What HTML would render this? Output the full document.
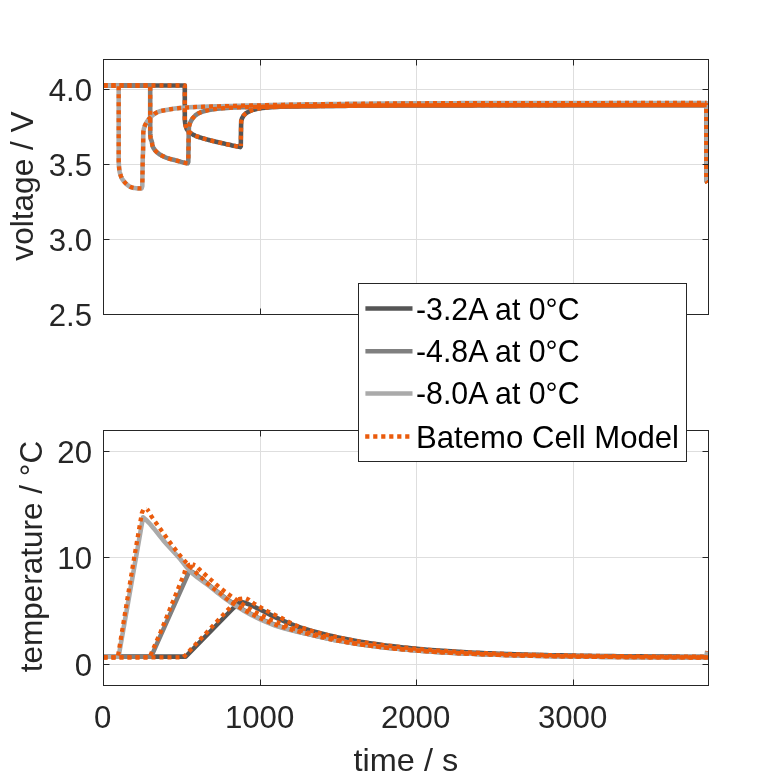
<!DOCTYPE html>
<html lang="en">
<head>
<meta charset="utf-8">
<title>Batemo Cell Model - voltage and temperature</title>
<style>
html,body{margin:0;padding:0;background:#ffffff;}
body{width:781px;height:781px;overflow:hidden;}
svg{display:block;}
</style>
</head>
<body>
<svg width="781" height="781" viewBox="0 0 781 781">
<defs>
<clipPath id="c1"><rect x="103.5" y="59.5" width="605.0" height="255.0"/></clipPath>
<clipPath id="c2"><rect x="103.5" y="430.5" width="605.0" height="255.0"/></clipPath>
</defs>
<rect width="781" height="781" fill="#ffffff"/>
<path d="M260.5 59.5 V314.5 M416.5 59.5 V314.5 M573.5 59.5 V314.5 M103.5 89.5 H708.5 M103.5 164.5 H708.5 M103.5 239.5 H708.5" stroke="#dedede" stroke-width="1" fill="none"/>
<g clip-path="url(#c1)" fill="none" stroke-linejoin="round" stroke-width="4.3">
<path d="M103.50 85.50 L184.80 85.50 L184.80 118.00 L184.80 118.00 L184.84 119.42 L184.93 120.82 L185.07 122.21 L185.25 123.59 L185.46 124.97 L185.81 126.38 L186.26 127.75 L186.79 128.99 L187.46 130.09 L188.35 131.15 L189.42 132.15 L190.59 133.07 L191.80 133.89 L192.99 134.60 L194.18 135.21 L195.42 135.77 L196.70 136.30 L198.02 136.78 L199.37 137.24 L200.73 137.66 L202.11 138.08 L203.48 138.47 L204.85 138.87 L206.19 139.26 L207.54 139.64 L208.88 140.01 L210.24 140.36 L211.59 140.70 L212.96 141.04 L214.32 141.36 L215.68 141.68 L217.05 142.00 L218.42 142.31 L219.78 142.63 L221.15 142.94 L222.51 143.26 L223.87 143.57 L225.24 143.88 L226.61 144.18 L227.97 144.49 L229.34 144.79 L230.71 145.08 L232.08 145.38 L233.45 145.67 L234.82 145.96 L236.19 146.25 L237.56 146.54 L238.93 146.82 L240.30 147.10 L240.80 146.00 L241.00 130.00 L241.20 121.00 L241.20 121.00 L242.16 118.03 L243.59 115.55 L245.63 113.54 L248.23 111.90 L250.89 110.64 L253.71 109.65 L256.58 108.93 L259.49 108.36 L262.43 107.95 L265.37 107.65 L268.32 107.40 L271.28 107.19 L274.24 107.03 L277.20 106.91 L280.15 106.80 L283.11 106.69 L286.07 106.60 L289.04 106.52 L292.00 106.45 L294.96 106.39 L297.92 106.33 L300.88 106.29 L303.84 106.24 L306.80 106.20 L309.76 106.16 L312.72 106.13 L315.69 106.09 L318.65 106.06 L321.61 106.03 L324.57 106.00 L327.53 105.98 L330.49 105.95 L333.45 105.93 L336.42 105.90 L339.38 105.88 L342.34 105.86 L345.30 105.83 L348.26 105.81 L351.22 105.79 L354.19 105.77 L357.15 105.75 L360.11 105.73 L363.07 105.70 L366.03 105.68 L368.99 105.66 L371.95 105.64 L374.91 105.62 L377.88 105.60 L380.84 105.58 L383.80 105.56 L386.76 105.54 L389.72 105.53 L392.68 105.51 L395.65 105.49 L398.61 105.48 L401.57 105.46 L404.53 105.45 L407.49 105.44 L410.45 105.43 L413.41 105.42 L416.38 105.41 L419.34 105.40 L422.30 105.40 L425.26 105.39 L428.22 105.38 L431.18 105.38 L434.14 105.37 L437.11 105.37 L440.07 105.37 L443.03 105.36 L445.99 105.36 L448.95 105.35 L451.91 105.35 L454.87 105.35 L457.84 105.34 L460.80 105.34 L463.76 105.34 L466.72 105.33 L469.68 105.33 L472.64 105.33 L475.60 105.32 L478.57 105.32 L481.53 105.32 L484.49 105.32 L487.45 105.31 L490.41 105.31 L493.37 105.31 L496.34 105.30 L499.30 105.30 L502.26 105.30 L505.22 105.29 L508.18 105.29 L511.14 105.29 L514.10 105.28 L517.07 105.28 L520.03 105.28 L522.99 105.27 L525.95 105.27 L528.91 105.27 L531.87 105.27 L534.83 105.26 L537.80 105.26 L540.76 105.26 L543.72 105.25 L546.68 105.25 L549.64 105.25 L552.60 105.24 L555.56 105.24 L558.53 105.24 L561.49 105.23 L564.45 105.23 L567.41 105.23 L570.37 105.22 L573.33 105.22 L576.29 105.22 L579.26 105.22 L582.22 105.21 L585.18 105.21 L588.14 105.21 L591.10 105.20 L594.06 105.20 L597.03 105.20 L599.99 105.19 L602.95 105.19 L605.91 105.19 L608.87 105.19 L611.83 105.18 L614.79 105.18 L617.76 105.18 L620.72 105.17 L623.68 105.17 L626.64 105.17 L629.60 105.17 L632.56 105.16 L635.52 105.16 L638.49 105.16 L641.45 105.15 L644.41 105.15 L647.37 105.15 L650.33 105.15 L653.29 105.14 L656.25 105.14 L659.22 105.14 L662.18 105.14 L665.14 105.13 L668.10 105.13 L671.06 105.13 L674.02 105.13 L676.99 105.12 L679.95 105.12 L682.91 105.12 L685.87 105.12 L688.83 105.11 L691.79 105.11 L694.75 105.11 L697.72 105.11 L700.68 105.10 L703.64 105.10 L706.60 105.10 L706.60 181.00 L707.60 182.50" stroke="#555555" stroke-width="4.6"/>
<path d="M103.50 85.50 L150.20 85.50 L150.20 132.00 L150.20 132.00 L150.22 133.14 L150.27 134.27 L150.35 135.39 L150.46 136.50 L150.59 137.59 L150.75 138.67 L151.09 139.73 L151.53 140.78 L151.86 141.84 L152.06 142.96 L152.22 144.09 L152.41 145.19 L152.67 146.22 L153.07 147.23 L153.61 148.23 L154.25 149.20 L154.96 150.13 L155.72 151.01 L156.49 151.81 L157.26 152.53 L158.09 153.21 L158.97 153.87 L159.91 154.50 L160.89 155.09 L161.89 155.66 L162.92 156.19 L163.96 156.68 L164.99 157.14 L166.02 157.57 L167.04 157.95 L168.08 158.31 L169.14 158.65 L170.22 158.96 L171.30 159.26 L172.39 159.54 L173.48 159.82 L174.57 160.10 L175.66 160.38 L176.75 160.66 L177.83 160.95 L178.91 161.25 L179.98 161.55 L181.06 161.85 L182.14 162.14 L183.23 162.42 L184.31 162.68 L185.40 162.92 L186.50 163.13 L187.60 163.30 L188.30 162.00 L188.60 140.00 L188.90 127.00 L188.90 127.00 L189.79 123.69 L191.11 120.71 L192.87 118.00 L195.26 115.50 L197.90 113.63 L200.83 112.28 L204.05 111.19 L207.31 110.36 L210.54 109.74 L213.81 109.23 L217.11 108.80 L220.40 108.45 L223.69 108.14 L226.99 107.88 L230.29 107.69 L233.60 107.54 L236.90 107.41 L240.21 107.30 L243.51 107.19 L246.82 107.10 L250.13 107.02 L253.44 106.94 L256.74 106.87 L260.05 106.80 L263.36 106.73 L266.67 106.67 L269.97 106.62 L273.28 106.56 L276.59 106.51 L279.90 106.46 L283.20 106.41 L286.51 106.37 L289.82 106.33 L293.13 106.28 L296.43 106.24 L299.74 106.20 L303.05 106.16 L306.36 106.12 L309.66 106.09 L312.97 106.05 L316.28 106.01 L319.59 105.98 L322.89 105.94 L326.20 105.91 L329.51 105.88 L332.82 105.84 L336.13 105.81 L339.43 105.78 L342.74 105.76 L346.05 105.73 L349.36 105.70 L352.66 105.68 L355.97 105.66 L359.28 105.63 L362.59 105.61 L365.89 105.58 L369.20 105.56 L372.51 105.54 L375.82 105.51 L379.13 105.49 L382.43 105.47 L385.74 105.45 L389.05 105.43 L392.36 105.41 L395.66 105.39 L398.97 105.38 L402.28 105.36 L405.59 105.35 L408.90 105.33 L412.20 105.32 L415.51 105.31 L418.82 105.30 L422.13 105.30 L425.43 105.29 L428.74 105.28 L432.05 105.28 L435.36 105.27 L438.67 105.27 L441.97 105.26 L445.28 105.26 L448.59 105.25 L451.90 105.25 L455.21 105.25 L458.51 105.24 L461.82 105.24 L465.13 105.23 L468.44 105.23 L471.74 105.23 L475.05 105.23 L478.36 105.22 L481.67 105.22 L484.98 105.22 L488.28 105.21 L491.59 105.21 L494.90 105.21 L498.21 105.20 L501.51 105.20 L504.82 105.19 L508.13 105.19 L511.44 105.19 L514.75 105.18 L518.05 105.18 L521.36 105.18 L524.67 105.17 L527.98 105.17 L531.29 105.17 L534.59 105.16 L537.90 105.16 L541.21 105.15 L544.52 105.15 L547.82 105.15 L551.13 105.14 L554.44 105.14 L557.75 105.14 L561.06 105.13 L564.36 105.13 L567.67 105.13 L570.98 105.12 L574.29 105.12 L577.59 105.12 L580.90 105.11 L584.21 105.11 L587.52 105.11 L590.83 105.10 L594.13 105.10 L597.44 105.10 L600.75 105.09 L604.06 105.09 L607.37 105.09 L610.67 105.08 L613.98 105.08 L617.29 105.08 L620.60 105.07 L623.90 105.07 L627.21 105.07 L630.52 105.06 L633.83 105.06 L637.14 105.06 L640.44 105.06 L643.75 105.05 L647.06 105.05 L650.37 105.05 L653.67 105.04 L656.98 105.04 L660.29 105.04 L663.60 105.04 L666.91 105.03 L670.21 105.03 L673.52 105.03 L676.83 105.02 L680.14 105.02 L683.45 105.02 L686.75 105.02 L690.06 105.01 L693.37 105.01 L696.68 105.01 L699.98 105.01 L703.29 105.00 L706.60 105.00 L706.60 181.00 L707.60 182.50" stroke="#808080" stroke-width="4.6"/>
<path d="M103.50 85.50 L118.70 85.50 L118.70 160.00 L118.70 160.00 L118.71 161.09 L118.74 162.18 L118.78 163.27 L118.84 164.35 L118.92 165.43 L119.00 166.51 L119.09 167.58 L119.19 168.65 L119.30 169.72 L119.47 170.80 L119.68 171.88 L119.92 172.96 L120.20 174.02 L120.51 175.06 L120.85 176.06 L121.21 177.04 L121.67 178.00 L122.21 178.96 L122.82 179.90 L123.48 180.80 L124.18 181.66 L124.90 182.47 L125.62 183.22 L126.40 183.98 L127.23 184.73 L128.11 185.46 L129.02 186.11 L129.97 186.68 L130.93 187.11 L131.90 187.41 L132.92 187.66 L133.98 187.89 L135.06 188.09 L136.16 188.25 L137.26 188.35 L138.35 188.40 L139.43 188.40 L140.51 188.40 L141.60 188.40 L142.30 186.00 L142.70 160.00 L143.10 150.00 L143.30 132.00 L143.30 132.00 L143.97 128.42 L145.11 125.02 L146.85 121.81 L148.95 118.89 L151.49 116.27 L154.31 113.97 L157.44 112.10 L160.79 111.04 L164.36 110.29 L167.97 109.67 L171.54 109.09 L175.12 108.56 L178.72 108.13 L182.31 107.80 L185.92 107.52 L189.53 107.30 L193.14 107.12 L196.75 106.97 L200.37 106.84 L203.98 106.72 L207.60 106.61 L211.21 106.51 L214.83 106.41 L218.44 106.30 L222.06 106.20 L225.67 106.11 L229.29 106.02 L232.90 105.93 L236.52 105.84 L240.13 105.75 L243.75 105.67 L247.36 105.58 L250.98 105.50 L254.59 105.42 L258.21 105.34 L261.82 105.26 L265.44 105.18 L269.05 105.10 L272.67 105.02 L276.29 104.95 L279.90 104.87 L283.52 104.80 L287.13 104.72 L290.75 104.66 L294.36 104.59 L297.98 104.53 L301.59 104.48 L305.21 104.42 L308.83 104.37 L312.44 104.32 L316.06 104.28 L319.67 104.23 L323.29 104.19 L326.91 104.15 L330.52 104.11 L334.14 104.07 L337.75 104.03 L341.37 103.99 L344.99 103.95 L348.60 103.91 L352.22 103.88 L355.83 103.84 L359.45 103.80 L363.07 103.77 L366.68 103.73 L370.30 103.69 L373.91 103.65 L377.53 103.62 L381.15 103.58 L384.76 103.55 L388.38 103.51 L391.99 103.48 L395.61 103.45 L399.23 103.42 L402.84 103.40 L406.46 103.37 L410.07 103.35 L413.69 103.33 L417.31 103.31 L420.92 103.30 L424.54 103.28 L428.15 103.27 L431.77 103.26 L435.39 103.24 L439.00 103.23 L442.62 103.22 L446.24 103.21 L449.85 103.20 L453.47 103.19 L457.08 103.18 L460.70 103.17 L464.32 103.16 L467.93 103.15 L471.55 103.14 L475.16 103.14 L478.78 103.13 L482.40 103.12 L486.01 103.12 L489.63 103.11 L493.25 103.11 L496.86 103.10 L500.48 103.10 L504.09 103.10 L507.71 103.09 L511.33 103.09 L514.94 103.09 L518.56 103.08 L522.17 103.08 L525.79 103.08 L529.41 103.08 L533.02 103.07 L536.64 103.07 L540.26 103.07 L543.87 103.06 L547.49 103.06 L551.10 103.06 L554.72 103.06 L558.34 103.05 L561.95 103.05 L565.57 103.05 L569.19 103.05 L572.80 103.04 L576.42 103.04 L580.03 103.04 L583.65 103.04 L587.27 103.04 L590.88 103.03 L594.50 103.03 L598.11 103.03 L601.73 103.03 L605.35 103.03 L608.96 103.02 L612.58 103.02 L616.20 103.02 L619.81 103.02 L623.43 103.02 L627.04 103.02 L630.66 103.01 L634.28 103.01 L637.89 103.01 L641.51 103.01 L645.12 103.01 L648.74 103.01 L652.36 103.01 L655.97 103.01 L659.59 103.01 L663.21 103.00 L666.82 103.00 L670.44 103.00 L674.05 103.00 L677.67 103.00 L681.29 103.00 L684.90 103.00 L688.52 103.00 L692.14 103.00 L695.75 103.00 L699.37 103.00 L702.98 103.00 L706.60 103.00 L706.60 181.00 L707.60 182.50" stroke="#aaaaaa" stroke-width="4.6"/>
<path d="M103.50 85.50 L184.80 85.50 L184.80 118.00 L184.80 118.00 L184.84 119.42 L184.93 120.82 L185.07 122.21 L185.25 123.59 L185.46 124.97 L185.81 126.38 L186.26 127.75 L186.79 128.99 L187.46 130.09 L188.35 131.15 L189.42 132.15 L190.59 133.07 L191.80 133.89 L192.99 134.60 L194.18 135.21 L195.42 135.77 L196.70 136.30 L198.02 136.78 L199.37 137.24 L200.73 137.66 L202.11 138.08 L203.48 138.47 L204.85 138.87 L206.19 139.26 L207.54 139.64 L208.88 140.01 L210.24 140.36 L211.59 140.70 L212.96 141.04 L214.32 141.36 L215.68 141.68 L217.05 142.00 L218.42 142.31 L219.78 142.63 L221.15 142.94 L222.51 143.26 L223.87 143.57 L225.24 143.88 L226.61 144.18 L227.97 144.49 L229.34 144.79 L230.71 145.08 L232.08 145.38 L233.45 145.67 L234.82 145.96 L236.19 146.25 L237.56 146.54 L238.93 146.82 L240.30 147.10 L240.80 146.00" stroke="#ea5b0c" stroke-dasharray="4 4" stroke-dashoffset="0.00"/>
<path d="M240.80 146.00 L241.00 130.00 L241.20 121.00 L241.20 121.00 L242.16 118.03 L243.59 115.55 L245.63 113.54 L248.23 111.90 L250.89 110.64 L253.71 109.65 L256.58 108.93 L259.49 108.36 L262.43 107.95 L265.37 107.65 L268.32 107.40 L271.28 107.19 L274.24 107.03 L277.20 106.91 L280.15 106.80 L283.11 106.69 L286.07 106.60 L289.04 106.52 L292.00 106.45 L294.96 106.39 L297.92 106.33 L300.88 106.29 L303.84 106.24 L306.80 106.20 L309.76 106.16 L312.72 106.13 L315.69 106.09 L318.65 106.06 L321.61 106.03 L324.57 106.00 L327.53 105.98 L330.49 105.95 L333.45 105.93 L336.42 105.90 L339.38 105.88 L342.34 105.86 L345.30 105.83 L348.26 105.81 L351.22 105.79 L354.19 105.77 L357.15 105.75 L360.11 105.73 L363.07 105.70 L366.03 105.68 L368.99 105.66 L371.95 105.64 L374.91 105.62 L377.88 105.60 L380.84 105.58 L383.80 105.56 L386.76 105.54 L389.72 105.53 L392.68 105.51 L395.65 105.49 L398.61 105.48 L401.57 105.46 L404.53 105.45 L407.49 105.44 L410.45 105.43 L413.41 105.42 L416.38 105.41 L419.34 105.40 L422.30 105.40 L425.26 105.39 L428.22 105.38 L431.18 105.38 L434.14 105.37 L437.11 105.37 L440.07 105.37 L443.03 105.36 L445.99 105.36 L448.95 105.35 L451.91 105.35 L454.87 105.35 L457.84 105.34 L460.80 105.34 L463.76 105.34 L466.72 105.33 L469.68 105.33 L472.64 105.33 L475.60 105.32 L478.57 105.32 L481.53 105.32 L484.49 105.32 L487.45 105.31 L490.41 105.31 L493.37 105.31 L496.34 105.30 L499.30 105.30 L502.26 105.30 L505.22 105.29 L508.18 105.29 L511.14 105.29 L514.10 105.28 L517.07 105.28 L520.03 105.28 L522.99 105.27 L525.95 105.27 L528.91 105.27 L531.87 105.27 L534.83 105.26 L537.80 105.26 L540.76 105.26 L543.72 105.25 L546.68 105.25 L549.64 105.25 L552.60 105.24 L555.56 105.24 L558.53 105.24 L561.49 105.23 L564.45 105.23 L567.41 105.23 L570.37 105.22 L573.33 105.22 L576.29 105.22 L579.26 105.22 L582.22 105.21 L585.18 105.21 L588.14 105.21 L591.10 105.20 L594.06 105.20 L597.03 105.20 L599.99 105.19 L602.95 105.19 L605.91 105.19 L608.87 105.19 L611.83 105.18 L614.79 105.18 L617.76 105.18 L620.72 105.17 L623.68 105.17 L626.64 105.17 L629.60 105.17 L632.56 105.16 L635.52 105.16 L638.49 105.16 L641.45 105.15 L644.41 105.15 L647.37 105.15 L650.33 105.15 L653.29 105.14 L656.25 105.14 L659.22 105.14 L662.18 105.14 L665.14 105.13 L668.10 105.13 L671.06 105.13 L674.02 105.13 L676.99 105.12 L679.95 105.12 L682.91 105.12 L685.87 105.12 L688.83 105.11 L691.79 105.11 L694.75 105.11 L697.72 105.11 L700.68 105.10 L703.64 105.10 L706.60 105.10" stroke="#ea5b0c" stroke-dasharray="4 4" stroke-dashoffset="1.63"/>
<path d="M706.60 105.10 L706.60 181.00 L707.60 182.50" stroke="#ea5b0c" stroke-dasharray="4 4" stroke-dashoffset="4.10"/>
<path d="M103.50 85.50 L150.20 85.50 L150.20 132.00 L150.20 132.00 L150.22 133.14 L150.27 134.27 L150.35 135.39 L150.46 136.50 L150.59 137.59 L150.75 138.67 L151.09 139.73 L151.53 140.78 L151.86 141.84 L152.06 142.96 L152.22 144.09 L152.41 145.19 L152.67 146.22 L153.07 147.23 L153.61 148.23 L154.25 149.20 L154.96 150.13 L155.72 151.01 L156.49 151.81 L157.26 152.53 L158.09 153.21 L158.97 153.87 L159.91 154.50 L160.89 155.09 L161.89 155.66 L162.92 156.19 L163.96 156.68 L164.99 157.14 L166.02 157.57 L167.04 157.95 L168.08 158.31 L169.14 158.65 L170.22 158.96 L171.30 159.26 L172.39 159.54 L173.48 159.82 L174.57 160.10 L175.66 160.38 L176.75 160.66 L177.83 160.95 L178.91 161.25 L179.98 161.55 L181.06 161.85 L182.14 162.14 L183.23 162.42 L184.31 162.68 L185.40 162.92 L186.50 163.13 L187.60 163.30 L188.30 162.00" stroke="#ea5b0c" stroke-dasharray="4 4" stroke-dashoffset="0.00"/>
<path d="M188.30 162.00 L188.60 140.00 L188.90 127.00 L188.90 127.00 L189.79 123.69 L191.11 120.71 L192.87 118.00 L195.26 115.50 L197.90 113.63 L200.83 112.28 L204.05 111.19 L207.31 110.36 L210.54 109.74 L213.81 109.23 L217.11 108.80 L220.40 108.45 L223.69 108.14 L226.99 107.88 L230.29 107.69 L233.60 107.54 L236.90 107.41 L240.21 107.30 L243.51 107.19 L246.82 107.10 L250.13 107.02 L253.44 106.94 L256.74 106.87 L260.05 106.80 L263.36 106.73 L266.67 106.67 L269.97 106.62 L273.28 106.56 L276.59 106.51 L279.90 106.46 L283.20 106.41 L286.51 106.37 L289.82 106.33 L293.13 106.28 L296.43 106.24 L299.74 106.20 L303.05 106.16 L306.36 106.12 L309.66 106.09 L312.97 106.05 L316.28 106.01 L319.59 105.98 L322.89 105.94 L326.20 105.91 L329.51 105.88 L332.82 105.84 L336.13 105.81 L339.43 105.78 L342.74 105.76 L346.05 105.73 L349.36 105.70 L352.66 105.68 L355.97 105.66 L359.28 105.63 L362.59 105.61 L365.89 105.58 L369.20 105.56 L372.51 105.54 L375.82 105.51 L379.13 105.49 L382.43 105.47 L385.74 105.45 L389.05 105.43 L392.36 105.41 L395.66 105.39 L398.97 105.38 L402.28 105.36 L405.59 105.35 L408.90 105.33 L412.20 105.32 L415.51 105.31 L418.82 105.30 L422.13 105.30 L425.43 105.29 L428.74 105.28 L432.05 105.28 L435.36 105.27 L438.67 105.27 L441.97 105.26 L445.28 105.26 L448.59 105.25 L451.90 105.25 L455.21 105.25 L458.51 105.24 L461.82 105.24 L465.13 105.23 L468.44 105.23 L471.74 105.23 L475.05 105.23 L478.36 105.22 L481.67 105.22 L484.98 105.22 L488.28 105.21 L491.59 105.21 L494.90 105.21 L498.21 105.20 L501.51 105.20 L504.82 105.19 L508.13 105.19 L511.44 105.19 L514.75 105.18 L518.05 105.18 L521.36 105.18 L524.67 105.17 L527.98 105.17 L531.29 105.17 L534.59 105.16 L537.90 105.16 L541.21 105.15 L544.52 105.15 L547.82 105.15 L551.13 105.14 L554.44 105.14 L557.75 105.14 L561.06 105.13 L564.36 105.13 L567.67 105.13 L570.98 105.12 L574.29 105.12 L577.59 105.12 L580.90 105.11 L584.21 105.11 L587.52 105.11 L590.83 105.10 L594.13 105.10 L597.44 105.10 L600.75 105.09 L604.06 105.09 L607.37 105.09 L610.67 105.08 L613.98 105.08 L617.29 105.08 L620.60 105.07 L623.90 105.07 L627.21 105.07 L630.52 105.06 L633.83 105.06 L637.14 105.06 L640.44 105.06 L643.75 105.05 L647.06 105.05 L650.37 105.05 L653.67 105.04 L656.98 105.04 L660.29 105.04 L663.60 105.04 L666.91 105.03 L670.21 105.03 L673.52 105.03 L676.83 105.02 L680.14 105.02 L683.45 105.02 L686.75 105.02 L690.06 105.01 L693.37 105.01 L696.68 105.01 L699.98 105.01 L703.29 105.00 L706.60 105.00" stroke="#ea5b0c" stroke-dasharray="4 4" stroke-dashoffset="4.50"/>
<path d="M706.60 105.00 L706.60 181.00 L707.60 182.50" stroke="#ea5b0c" stroke-dasharray="4 4" stroke-dashoffset="4.00"/>
<path d="M103.50 85.50 L118.70 85.50 L118.70 160.00 L118.70 160.00 L118.71 161.09 L118.74 162.18 L118.78 163.27 L118.84 164.35 L118.92 165.43 L119.00 166.51 L119.09 167.58 L119.19 168.65 L119.30 169.72 L119.47 170.80 L119.68 171.88 L119.92 172.96 L120.20 174.02 L120.51 175.06 L120.85 176.06 L121.21 177.04 L121.67 178.00 L122.21 178.96 L122.82 179.90 L123.48 180.80 L124.18 181.66 L124.90 182.47 L125.62 183.22 L126.40 183.98 L127.23 184.73 L128.11 185.46 L129.02 186.11 L129.97 186.68 L130.93 187.11 L131.90 187.41 L132.92 187.66 L133.98 187.89 L135.06 188.09 L136.16 188.25 L137.26 188.35 L138.35 188.40 L139.43 188.40 L140.51 188.40 L141.60 188.40 L142.30 186.00" stroke="#ea5b0c" stroke-dasharray="4 4" stroke-dashoffset="0.00"/>
<path d="M142.30 186.00 L142.70 160.00 L143.10 150.00 L143.30 132.00 L143.30 132.00 L143.97 128.42 L145.11 125.02 L146.85 121.81 L148.95 118.89 L151.49 116.27 L154.31 113.97 L157.44 112.10 L160.79 111.04 L164.36 110.29 L167.97 109.67 L171.54 109.09 L175.12 108.56 L178.72 108.13 L182.31 107.80 L185.92 107.52 L189.53 107.30 L193.14 107.12 L196.75 106.97 L200.37 106.84 L203.98 106.72 L207.60 106.61 L211.21 106.51 L214.83 106.41 L218.44 106.30 L222.06 106.20 L225.67 106.11 L229.29 106.02 L232.90 105.93 L236.52 105.84 L240.13 105.75 L243.75 105.67 L247.36 105.58 L250.98 105.50 L254.59 105.42 L258.21 105.34 L261.82 105.26 L265.44 105.18 L269.05 105.10 L272.67 105.02 L276.29 104.95 L279.90 104.87 L283.52 104.80 L287.13 104.72 L290.75 104.66 L294.36 104.59 L297.98 104.53 L301.59 104.48 L305.21 104.42 L308.83 104.37 L312.44 104.32 L316.06 104.28 L319.67 104.23 L323.29 104.19 L326.91 104.15 L330.52 104.11 L334.14 104.07 L337.75 104.03 L341.37 103.99 L344.99 103.95 L348.60 103.91 L352.22 103.88 L355.83 103.84 L359.45 103.80 L363.07 103.77 L366.68 103.73 L370.30 103.69 L373.91 103.65 L377.53 103.62 L381.15 103.58 L384.76 103.55 L388.38 103.51 L391.99 103.48 L395.61 103.45 L399.23 103.42 L402.84 103.40 L406.46 103.37 L410.07 103.35 L413.69 103.33 L417.31 103.31 L420.92 103.30 L424.54 103.28 L428.15 103.27 L431.77 103.26 L435.39 103.24 L439.00 103.23 L442.62 103.22 L446.24 103.21 L449.85 103.20 L453.47 103.19 L457.08 103.18 L460.70 103.17 L464.32 103.16 L467.93 103.15 L471.55 103.14 L475.16 103.14 L478.78 103.13 L482.40 103.12 L486.01 103.12 L489.63 103.11 L493.25 103.11 L496.86 103.10 L500.48 103.10 L504.09 103.10 L507.71 103.09 L511.33 103.09 L514.94 103.09 L518.56 103.08 L522.17 103.08 L525.79 103.08 L529.41 103.08 L533.02 103.07 L536.64 103.07 L540.26 103.07 L543.87 103.06 L547.49 103.06 L551.10 103.06 L554.72 103.06 L558.34 103.05 L561.95 103.05 L565.57 103.05 L569.19 103.05 L572.80 103.04 L576.42 103.04 L580.03 103.04 L583.65 103.04 L587.27 103.04 L590.88 103.03 L594.50 103.03 L598.11 103.03 L601.73 103.03 L605.35 103.03 L608.96 103.02 L612.58 103.02 L616.20 103.02 L619.81 103.02 L623.43 103.02 L627.04 103.02 L630.66 103.01 L634.28 103.01 L637.89 103.01 L641.51 103.01 L645.12 103.01 L648.74 103.01 L652.36 103.01 L655.97 103.01 L659.59 103.01 L663.21 103.00 L666.82 103.00 L670.44 103.00 L674.05 103.00 L677.67 103.00 L681.29 103.00 L684.90 103.00 L688.52 103.00 L692.14 103.00 L695.75 103.00 L699.37 103.00 L702.98 103.00 L706.60 103.00" stroke="#ea5b0c" stroke-dasharray="4 4" stroke-dashoffset="4.53"/>
<path d="M706.60 103.00 L706.60 181.00 L707.60 182.50" stroke="#ea5b0c" stroke-dasharray="4 4" stroke-dashoffset="2.00"/>
</g>
<path d="M260.5 314.5 v-6 M260.5 59.5 v6 M416.5 314.5 v-6 M416.5 59.5 v6 M573.5 314.5 v-6 M573.5 59.5 v6 M103.5 89.5 h6 M708.5 89.5 h-6 M103.5 164.5 h6 M708.5 164.5 h-6 M103.5 239.5 h6 M708.5 239.5 h-6" stroke="#262626" stroke-width="1" fill="none"/>
<rect x="103.5" y="59.5" width="605.0" height="255.0" fill="none" stroke="#262626" stroke-width="1"/>
<path d="M260.5 430.5 V685.5 M416.5 430.5 V685.5 M573.5 430.5 V685.5 M103.5 451.5 H708.5 M103.5 557.5 H708.5 M103.5 664.5 H708.5" stroke="#dedede" stroke-width="1" fill="none"/>
<g clip-path="url(#c2)" fill="none" stroke-linejoin="round" stroke-width="4.3">
<path d="M103.50 656.60 L185.70 656.60 L233.40 608.00 L240.50 601.80 L240.50 601.80 L244.36 602.70 L248.07 603.99 L251.72 605.55 L255.31 607.28 L258.89 609.04 L262.47 610.75 L266.02 612.53 L269.54 614.35 L273.07 616.15 L276.65 617.87 L280.25 619.51 L283.88 621.12 L287.53 622.68 L291.21 624.17 L294.91 625.57 L298.65 626.87 L302.42 628.11 L306.21 629.28 L310.01 630.40 L313.82 631.48 L317.65 632.52 L321.48 633.53 L325.33 634.50 L329.18 635.44 L333.04 636.33 L336.91 637.19 L340.79 638.02 L344.68 638.81 L348.57 639.57 L352.46 640.30 L356.36 641.00 L360.27 641.67 L364.18 642.32 L368.10 642.94 L372.02 643.53 L375.94 644.10 L379.87 644.65 L383.80 645.17 L387.73 645.67 L391.66 646.15 L395.60 646.61 L399.54 647.05 L403.48 647.47 L407.43 647.88 L411.37 648.27 L415.32 648.65 L419.26 649.00 L423.21 649.35 L427.16 649.68 L431.12 649.99 L435.07 650.30 L439.02 650.58 L442.98 650.85 L446.93 651.12 L450.89 651.37 L454.85 651.62 L458.80 651.85 L462.76 652.08 L466.72 652.29 L470.68 652.50 L474.64 652.69 L478.60 652.88 L482.56 653.06 L486.52 653.23 L490.48 653.40 L494.44 653.56 L498.40 653.71 L502.36 653.85 L506.32 653.99 L510.28 654.13 L514.25 654.25 L518.21 654.38 L522.17 654.49 L526.13 654.61 L530.10 654.71 L534.06 654.81 L538.02 654.91 L541.98 655.01 L545.95 655.10 L549.91 655.18 L553.87 655.27 L557.84 655.35 L561.80 655.42 L565.76 655.50 L569.73 655.57 L573.69 655.63 L577.65 655.70 L581.62 655.76 L585.58 655.82 L589.55 655.88 L593.51 655.93 L597.47 655.98 L601.44 656.03 L605.40 656.07 L609.36 656.12 L613.33 656.16 L617.29 656.20 L621.26 656.24 L625.22 656.28 L629.18 656.32 L633.15 656.36 L637.11 656.39 L641.08 656.42 L645.04 656.45 L649.00 656.48 L652.97 656.51 L656.93 656.54 L660.90 656.56 L664.86 656.59 L668.82 656.61 L672.79 656.64 L676.75 656.66 L680.72 656.68 L684.68 656.70 L688.64 656.72 L692.61 656.74 L696.57 656.76 L700.54 656.77 L704.50 656.78 L708.00 657.30" stroke="#555555" stroke-width="4.6"/>
<path d="M103.50 656.60 L151.20 656.60 L189.60 570.60 L189.60 570.60 L193.52 572.73 L197.17 575.27 L200.70 578.06 L204.15 580.97 L207.60 583.90 L211.11 586.72 L214.63 589.50 L218.13 592.32 L221.65 595.12 L225.21 597.85 L228.84 600.47 L232.54 602.97 L236.31 605.41 L240.13 607.80 L243.99 610.11 L247.90 612.35 L251.85 614.48 L255.83 616.52 L259.86 618.45 L263.95 620.32 L268.09 622.09 L272.27 623.75 L276.47 625.29 L280.72 626.71 L285.01 628.02 L289.33 629.26 L293.67 630.44 L298.00 631.59 L302.36 632.67 L306.72 633.71 L311.09 634.74 L315.46 635.77 L319.83 636.80 L324.20 637.79 L328.59 638.75 L332.98 639.64 L337.39 640.49 L341.80 641.30 L346.22 642.08 L350.65 642.82 L355.08 643.52 L359.52 644.19 L363.96 644.84 L368.40 645.45 L372.85 646.03 L377.30 646.59 L381.76 647.13 L386.22 647.63 L390.68 648.11 L395.14 648.57 L399.61 649.01 L404.07 649.43 L408.54 649.83 L413.01 650.21 L417.48 650.57 L421.96 650.92 L426.43 651.25 L430.91 651.56 L435.39 651.86 L439.86 652.14 L444.34 652.41 L448.82 652.67 L453.30 652.91 L457.78 653.15 L462.26 653.37 L466.75 653.59 L471.23 653.79 L475.71 653.98 L480.19 654.16 L484.68 654.34 L489.16 654.51 L493.65 654.67 L498.13 654.82 L502.61 654.96 L507.10 655.10 L511.58 655.23 L516.07 655.35 L520.55 655.47 L525.04 655.59 L529.53 655.69 L534.01 655.79 L538.50 655.89 L542.98 655.98 L547.47 656.07 L551.96 656.16 L556.44 656.24 L560.93 656.32 L565.41 656.39 L569.90 656.46 L574.39 656.52 L578.87 656.59 L583.36 656.65 L587.85 656.71 L592.33 656.76 L596.82 656.81 L601.31 656.86 L605.79 656.91 L610.28 656.95 L614.77 656.99 L619.25 657.03 L623.74 657.07 L628.23 657.11 L632.71 657.15 L637.20 657.18 L641.69 657.21 L646.17 657.24 L650.66 657.27 L655.15 657.30 L659.63 657.32 L664.12 657.35 L668.61 657.37 L673.09 657.40 L677.58 657.42 L682.07 657.44 L686.55 657.46 L691.04 657.48 L695.53 657.50 L700.01 657.51 L704.50 657.53 L708.00 657.30" stroke="#808080" stroke-width="4.6"/>
<path d="M103.50 656.60 L118.60 656.60 L143.00 517.30 L143.00 517.30 L146.84 520.61 L150.31 524.28 L153.59 528.15 L156.78 532.14 L159.93 536.16 L163.15 540.13 L166.48 543.97 L169.91 547.72 L173.37 551.45 L176.81 555.20 L180.18 559.01 L183.36 563.00 L186.49 567.04 L189.83 570.83 L193.51 574.23 L197.45 577.41 L201.55 580.47 L205.70 583.48 L209.81 586.52 L213.82 589.65 L217.81 592.83 L221.81 595.98 L225.86 599.05 L230.00 601.97 L234.23 604.77 L238.53 607.50 L242.89 610.16 L247.31 612.71 L251.77 615.14 L256.29 617.44 L260.87 619.63 L265.52 621.73 L270.23 623.69 L274.98 625.48 L279.79 627.07 L284.67 628.51 L289.59 629.84 L294.52 631.08 L299.47 632.23 L304.45 633.29 L309.42 634.35 L314.38 635.48 L319.33 636.64 L324.28 637.79 L329.25 638.88 L334.23 639.88 L339.22 640.83 L344.23 641.73 L349.24 642.59 L354.26 643.39 L359.29 644.16 L364.32 644.89 L369.36 645.58 L374.40 646.23 L379.44 646.85 L384.50 647.44 L389.55 647.99 L394.61 648.51 L399.67 649.01 L404.73 649.49 L409.79 649.94 L414.86 650.36 L419.93 650.76 L425.00 651.14 L430.07 651.50 L435.14 651.84 L440.22 652.16 L445.29 652.46 L450.37 652.75 L455.44 653.03 L460.52 653.29 L465.60 653.53 L470.68 653.76 L475.76 653.98 L480.84 654.19 L485.92 654.39 L491.00 654.57 L496.08 654.75 L501.16 654.91 L506.24 655.07 L511.32 655.22 L516.41 655.36 L521.49 655.50 L526.57 655.62 L531.65 655.74 L536.74 655.85 L541.82 655.96 L546.90 656.06 L551.99 656.16 L557.07 656.25 L562.15 656.34 L567.24 656.42 L572.32 656.49 L577.40 656.57 L582.49 656.64 L587.57 656.70 L592.65 656.76 L597.74 656.82 L602.82 656.88 L607.90 656.93 L612.99 656.98 L618.07 657.02 L623.16 657.07 L628.24 657.11 L633.32 657.15 L638.41 657.19 L643.49 657.22 L648.58 657.26 L653.66 657.29 L658.74 657.32 L663.83 657.35 L668.91 657.38 L674.00 657.40 L679.08 657.43 L684.16 657.45 L689.25 657.47 L694.33 657.49 L699.42 657.51 L704.50 657.53 L706.30 656.60 L707.20 651.00" stroke="#aaaaaa" stroke-width="4.6"/>
<path d="M103.50 657.30 L183.50 657.30 L231.00 606.50 L231.00 606.50 L232.75 603.92 L234.80 601.69 L237.18 599.64 L240.00 598.94 L243.16 598.60 L246.14 598.53" stroke="#ea5b0c" stroke-dasharray="4 4" stroke-dashoffset="0.00"/>
<path d="M246.14 598.53 L248.80 599.73 L251.35 601.79 L253.95 603.53 L256.57 605.10 L259.20 606.66 L261.85 608.20 L264.52 609.69 L267.21 611.13 L269.94 612.49 L272.71 613.81 L275.48 615.10 L278.25 616.41 L281.00 617.75 L283.71 619.16 L286.41 620.63 L289.10 622.10 L291.81 623.51 L294.56 624.81 L297.37 625.98 L300.22 627.09 L303.11 628.14 L306.01 629.13 L308.92 630.06 L311.84 630.95 L314.78 631.79 L317.73 632.60 L320.69 633.37 L323.66 634.11 L326.64 634.84 L329.61 635.54 L332.59 636.23 L335.58 636.90 L338.56 637.55 L341.56 638.18 L344.56 638.79 L347.56 639.37 L350.56 639.94 L353.57 640.50 L356.58 641.03 L359.59 641.55 L362.61 642.06 L365.63 642.55 L368.65 643.02 L371.67 643.48 L374.70 643.92 L377.73 644.35 L380.76 644.77 L383.79 645.17 L386.82 645.56 L389.86 645.93 L392.89 646.29 L395.93 646.64 L398.97 646.98 L402.01 647.32 L405.05 647.64 L408.10 647.95 L411.14 648.25 L414.18 648.54 L417.23 648.82 L420.27 649.09 L423.32 649.36 L426.37 649.61 L429.42 649.86 L432.47 650.10 L435.52 650.33 L438.57 650.55 L441.62 650.76 L444.67 650.97 L447.72 651.17 L450.77 651.37 L453.82 651.56 L456.87 651.74 L459.93 651.92 L462.98 652.09 L466.03 652.26 L469.09 652.41 L472.14 652.57 L475.20 652.72 L478.25 652.86 L481.31 653.00 L484.36 653.14 L487.42 653.27 L490.47 653.40 L493.53 653.52 L496.58 653.64 L499.64 653.75 L502.70 653.86 L505.75 653.97 L508.81 654.08 L511.86 654.18 L514.92 654.28 L517.98 654.37 L521.03 654.46 L524.09 654.55 L527.15 654.63 L530.21 654.72 L533.26 654.79 L536.32 654.87 L539.38 654.94 L542.43 655.02 L545.49 655.09 L548.55 655.15 L551.61 655.22 L554.66 655.28 L557.72 655.35 L560.78 655.40 L563.84 655.46 L566.89 655.52 L569.95 655.57 L573.01 655.62 L576.07 655.67 L579.12 655.72 L582.18 655.77 L585.24 655.81 L588.30 655.86 L591.36 655.90 L594.41 655.94 L597.47 655.98 L600.53 656.02 L603.59 656.05 L606.64 656.09 L609.70 656.12 L612.76 656.16 L615.82 656.19 L618.88 656.22 L621.93 656.25 L624.99 656.28 L628.05 656.31 L631.11 656.34 L634.17 656.36 L637.22 656.39 L640.28 656.42 L643.34 656.44 L646.40 656.46 L649.46 656.49 L652.51 656.51 L655.57 656.53 L658.63 656.55 L661.69 656.57 L664.75 656.59 L667.80 656.61 L670.86 656.62 L673.92 656.64 L676.98 656.66 L680.04 656.68 L683.09 656.69 L686.15 656.71 L689.21 656.72 L692.27 656.74 L695.33 656.75 L698.38 656.76 L701.44 656.77 L704.50 656.78 L708.00 657.30" stroke="#ea5b0c" stroke-dasharray="4 4" stroke-dashoffset="0.48"/>
<path d="M103.50 657.30 L149.60 657.30 L160.60 632.00 L181.20 581.10 L184.20 573.80 L184.20 573.80 L185.09 570.31 L186.64 567.38 L189.18 564.91 L192.56 564.31" stroke="#ea5b0c" stroke-dasharray="4 4" stroke-dashoffset="0.00"/>
<path d="M192.56 564.31 L195.47 565.37 L198.07 568.06 L200.66 570.52 L203.22 572.83 L205.76 575.16 L208.32 577.46 L210.89 579.76 L213.46 582.06 L216.03 584.35 L218.66 586.58 L221.33 588.76 L224.04 590.89 L226.77 592.99 L229.53 595.05 L232.34 597.05 L235.15 599.06 L237.97 601.05 L240.82 603.02 L243.68 604.97 L246.56 606.86 L249.48 608.71 L252.42 610.48 L255.40 612.17 L258.42 613.78 L261.49 615.33 L264.61 616.81 L267.75 618.25 L270.92 619.64 L274.09 620.99 L277.27 622.32 L280.46 623.64 L283.66 624.93 L286.88 626.18 L290.12 627.37 L293.37 628.48 L296.65 629.50 L299.95 630.45 L303.27 631.35 L306.60 632.21 L309.95 633.03 L313.31 633.83 L316.67 634.62 L320.03 635.40 L323.40 636.18 L326.76 636.97 L330.11 637.78 L333.45 638.63 L336.79 639.51 L340.12 640.41 L343.46 641.27 L346.81 642.06 L350.18 642.74 L353.57 643.34 L356.97 643.88 L360.38 644.38 L363.80 644.85 L367.22 645.30 L370.64 645.75 L374.06 646.19 L377.47 646.62 L380.90 647.03 L384.32 647.42 L387.75 647.80 L391.17 648.16 L394.60 648.51 L398.03 648.85 L401.46 649.18 L404.89 649.50 L408.32 649.81 L411.76 650.10 L415.19 650.39 L418.63 650.66 L422.06 650.92 L425.50 651.18 L428.94 651.42 L432.37 651.66 L435.81 651.89 L439.25 652.10 L442.69 652.31 L446.13 652.51 L449.57 652.71 L453.01 652.90 L456.45 653.08 L459.90 653.26 L463.34 653.43 L466.78 653.59 L470.22 653.74 L473.66 653.89 L477.11 654.04 L480.55 654.18 L483.99 654.31 L487.44 654.44 L490.88 654.57 L494.32 654.69 L497.77 654.81 L501.21 654.92 L504.66 655.02 L508.10 655.13 L511.55 655.23 L514.99 655.32 L518.43 655.42 L521.88 655.51 L525.32 655.59 L528.77 655.68 L532.21 655.75 L535.66 655.83 L539.10 655.90 L542.55 655.98 L546.00 656.04 L549.44 656.11 L552.89 656.18 L556.33 656.24 L559.78 656.30 L563.22 656.35 L566.67 656.41 L570.11 656.46 L573.56 656.51 L577.00 656.56 L580.45 656.61 L583.90 656.66 L587.34 656.70 L590.79 656.74 L594.23 656.78 L597.68 656.82 L601.12 656.86 L604.57 656.89 L608.02 656.93 L611.46 656.96 L614.91 656.99 L618.35 657.02 L621.80 657.06 L625.24 657.09 L628.69 657.11 L632.14 657.14 L635.58 657.17 L639.03 657.19 L642.47 657.22 L645.92 657.24 L649.37 657.26 L652.81 657.28 L656.26 657.30 L659.70 657.32 L663.15 657.34 L666.59 657.36 L670.04 657.38 L673.49 657.40 L676.93 657.42 L680.38 657.43 L683.82 657.45 L687.27 657.46 L690.72 657.48 L694.16 657.49 L697.61 657.51 L701.05 657.52 L704.50 657.53 L708.00 657.30" stroke="#ea5b0c" stroke-dasharray="4 4" stroke-dashoffset="1.28"/>
<path d="M103.50 657.30 L117.80 657.30 L133.80 560.00 L141.90 512.90 L141.90 512.90 L143.53 509.32 L147.10 509.13" stroke="#ea5b0c" stroke-dasharray="4 4" stroke-dashoffset="0.00"/>
<path d="M147.10 509.13 L149.29 512.16 L151.29 516.12 L153.50 519.30 L155.73 522.46 L157.98 525.61 L160.23 528.76 L162.46 531.92 L164.68 535.09 L166.92 538.24 L169.20 541.37 L171.52 544.47 L173.85 547.57 L176.20 550.65 L178.59 553.70 L181.04 556.70 L183.55 559.63 L186.19 562.45 L188.96 565.16 L191.64 567.95 L194.26 570.80 L196.98 573.54 L199.84 576.16 L202.65 578.81 L205.41 581.53 L208.26 584.15 L211.21 586.66 L214.26 589.04 L217.45 591.23 L220.56 593.53 L223.45 596.10 L226.38 598.62 L229.47 600.97 L232.65 603.17 L235.91 605.24 L239.22 607.24 L242.57 609.18 L245.97 611.06 L249.40 612.88 L252.85 614.65 L256.31 616.35 L259.80 618.01 L263.32 619.64 L266.87 621.20 L270.45 622.70 L274.05 624.10 L277.68 625.41 L281.35 626.63 L285.05 627.77 L288.77 628.85 L292.50 629.90 L296.23 630.94 L299.96 631.95 L303.71 632.92 L307.46 633.86 L311.22 634.78 L314.99 635.68 L318.75 636.57 L322.53 637.43 L326.31 638.26 L330.09 639.06 L333.89 639.82 L337.69 640.55 L341.49 641.25 L345.31 641.92 L349.12 642.57 L352.94 643.18 L356.76 643.78 L360.59 644.35 L364.42 644.90 L368.26 645.43 L372.09 645.94 L375.93 646.42 L379.77 646.89 L383.62 647.34 L387.46 647.77 L391.31 648.18 L395.16 648.57 L399.01 648.95 L402.86 649.31 L406.72 649.67 L410.57 650.00 L414.43 650.33 L418.29 650.63 L422.14 650.93 L426.00 651.22 L429.86 651.49 L433.72 651.75 L437.59 652.00 L441.45 652.24 L445.31 652.46 L449.17 652.69 L453.04 652.90 L456.90 653.10 L460.77 653.30 L464.63 653.49 L468.50 653.67 L472.36 653.84 L476.23 654.00 L480.10 654.16 L483.96 654.31 L487.83 654.46 L491.70 654.60 L495.56 654.73 L499.43 654.86 L503.30 654.98 L507.17 655.10 L511.04 655.21 L514.90 655.32 L518.77 655.43 L522.64 655.53 L526.51 655.62 L530.38 655.71 L534.25 655.80 L538.12 655.88 L541.98 655.96 L545.85 656.04 L549.72 656.12 L553.59 656.19 L557.46 656.26 L561.33 656.32 L565.20 656.38 L569.07 656.44 L572.94 656.50 L576.81 656.56 L580.67 656.61 L584.54 656.66 L588.41 656.71 L592.28 656.76 L596.15 656.80 L600.02 656.85 L603.89 656.89 L607.76 656.92 L611.63 656.96 L615.50 657.00 L619.37 657.03 L623.24 657.07 L627.11 657.10 L630.98 657.13 L634.85 657.16 L638.72 657.19 L642.59 657.22 L646.46 657.24 L650.33 657.27 L654.20 657.29 L658.06 657.31 L661.93 657.34 L665.80 657.36 L669.67 657.38 L673.54 657.40 L677.41 657.42 L681.28 657.44 L685.15 657.46 L689.02 657.47 L692.89 657.49 L696.76 657.50 L700.63 657.52 L704.50 657.53 L706.30 656.60 L707.20 651.00" stroke="#ea5b0c" stroke-dasharray="4 4" stroke-dashoffset="1.00"/>
</g>
<path d="M260.5 685.5 v-6 M260.5 430.5 v6 M416.5 685.5 v-6 M416.5 430.5 v6 M573.5 685.5 v-6 M573.5 430.5 v6 M103.5 451.5 h6 M708.5 451.5 h-6 M103.5 557.5 h6 M708.5 557.5 h-6 M103.5 664.5 h6 M708.5 664.5 h-6" stroke="#262626" stroke-width="1" fill="none"/>
<rect x="103.5" y="430.5" width="605.0" height="255.0" fill="none" stroke="#262626" stroke-width="1"/>
<g font-family="'Liberation Sans', sans-serif" font-size="31.2" fill="#262626">
<text x="92.0" y="100.7" text-anchor="end">4.0</text>
<text x="92.0" y="175.7" text-anchor="end">3.5</text>
<text x="92.0" y="250.7" text-anchor="end">3.0</text>
<text x="92.0" y="325.7" text-anchor="end">2.5</text>
<text x="92.0" y="462.7" text-anchor="end">20</text>
<text x="92.0" y="568.7" text-anchor="end">10</text>
<text x="92.0" y="675.7" text-anchor="end">0</text>
<text x="102.6" y="727.8" text-anchor="middle">0</text>
<text x="259.6" y="727.8" text-anchor="middle">1000</text>
<text x="415.6" y="727.8" text-anchor="middle">2000</text>
<text x="572.6" y="727.8" text-anchor="middle">3000</text>
<text x="405.9" y="771.3" text-anchor="middle" textLength="104.6" lengthAdjust="spacingAndGlyphs">time / s</text>
<text transform="translate(33.2 186.0) rotate(-90)" text-anchor="middle" textLength="149.3" lengthAdjust="spacingAndGlyphs">voltage / V</text>
<text transform="translate(41.9 556.6) rotate(-90)" text-anchor="middle" textLength="231.5" lengthAdjust="spacingAndGlyphs">temperature / °C</text>
</g>
<rect x="358.5" y="283.5" width="328" height="178" fill="#ffffff" stroke="#262626" stroke-width="1"/>
<path d="M365.4 308.6 H412.5" stroke="#555555" stroke-width="4.5" fill="none"/>
<path d="M365.4 351.2 H412.5" stroke="#808080" stroke-width="4.5" fill="none"/>
<path d="M365.4 393.4 H412.5" stroke="#aaaaaa" stroke-width="4.5" fill="none"/>
<path d="M365.2 436.59999999999997 H412.5" stroke="#ea5b0c" stroke-width="4.5" stroke-dasharray="4.2 3.8" fill="none"/>
<g font-family="'Liberation Sans', sans-serif" font-size="31.2" fill="#000000">
<text x="416" y="319.5" textLength="163.5" lengthAdjust="spacingAndGlyphs">-3.2A at 0°C</text>
<text x="416" y="362.1" textLength="163.5" lengthAdjust="spacingAndGlyphs">-4.8A at 0°C</text>
<text x="416" y="404.3" textLength="163.5" lengthAdjust="spacingAndGlyphs">-8.0A at 0°C</text>
<text x="416" y="447.5" textLength="263" lengthAdjust="spacingAndGlyphs">Batemo Cell Model</text>
</g>
</svg>
</body>
</html>
